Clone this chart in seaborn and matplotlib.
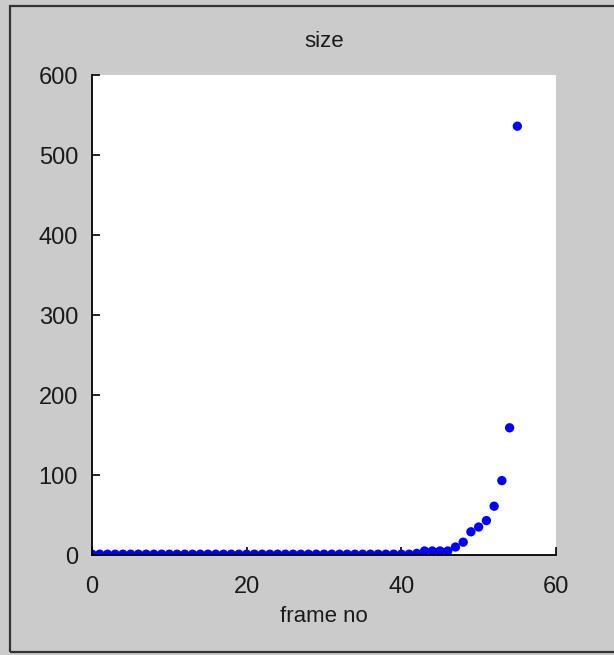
import matplotlib
matplotlib.use("Agg")
import matplotlib.pyplot as plt
import seaborn as sns
import pandas as pd
from matplotlib.patches import Rectangle

# --- Data ---
frame_no = list(range(0, 56))
size = [1] * 42 + [2, 5, 5, 5, 5, 10, 16, 29, 35, 43, 61, 93, 159, 536]
x_ticks = [0, 20, 40, 60]
y_ticks = [0, 100, 200, 300, 400, 500, 600]

df = pd.DataFrame({"frame no": frame_no, "size": size})

# --- Style ---
sns.set_style("white")
plt.rcParams["font.family"] = ["Liberation Sans", "DejaVu Sans"]

BG = "#cbcbcb"
TXT = "#1a1a1a"
fig = plt.figure(figsize=(6.14, 6.55), dpi=100, facecolor=BG)
ax = fig.add_axes([92 / 614, 100 / 655, 464 / 614, 480 / 655])

sns.scatterplot(data=df, x="frame no", y="size", color="#0000ff",
                s=45, edgecolor="none", ax=ax)

ax.set_xlim(0, 60)
ax.set_ylim(0, 600)
ax.set_xticks(x_ticks)
ax.set_yticks(y_ticks)
ax.set_facecolor("white")

for side in ["top", "right"]:
    ax.spines[side].set_visible(False)
for side in ["left", "bottom"]:
    ax.spines[side].set_color("black")
    ax.spines[side].set_linewidth(1.3)

ax.tick_params(bottom=True, left=True, direction="in", length=6, width=1.2,
               color="black", labelcolor=TXT, labelsize=17)
ax.tick_params(axis="x", pad=15)
ax.tick_params(axis="y", pad=10)
ax.set_title("size", fontsize=16, pad=20, color=TXT)
ax.set_xlabel("frame no", fontsize=16, labelpad=6, color=TXT)
ax.set_ylabel("")

# outer frame like the figure window border
fig.patches.append(Rectangle((10 / 614, 3 / 655), 1.0, 646 / 655,
                             transform=fig.transFigure, fill=False,
                             edgecolor="#333333", linewidth=1.6))

fig.savefig("out.png", dpi=100, facecolor=BG)
